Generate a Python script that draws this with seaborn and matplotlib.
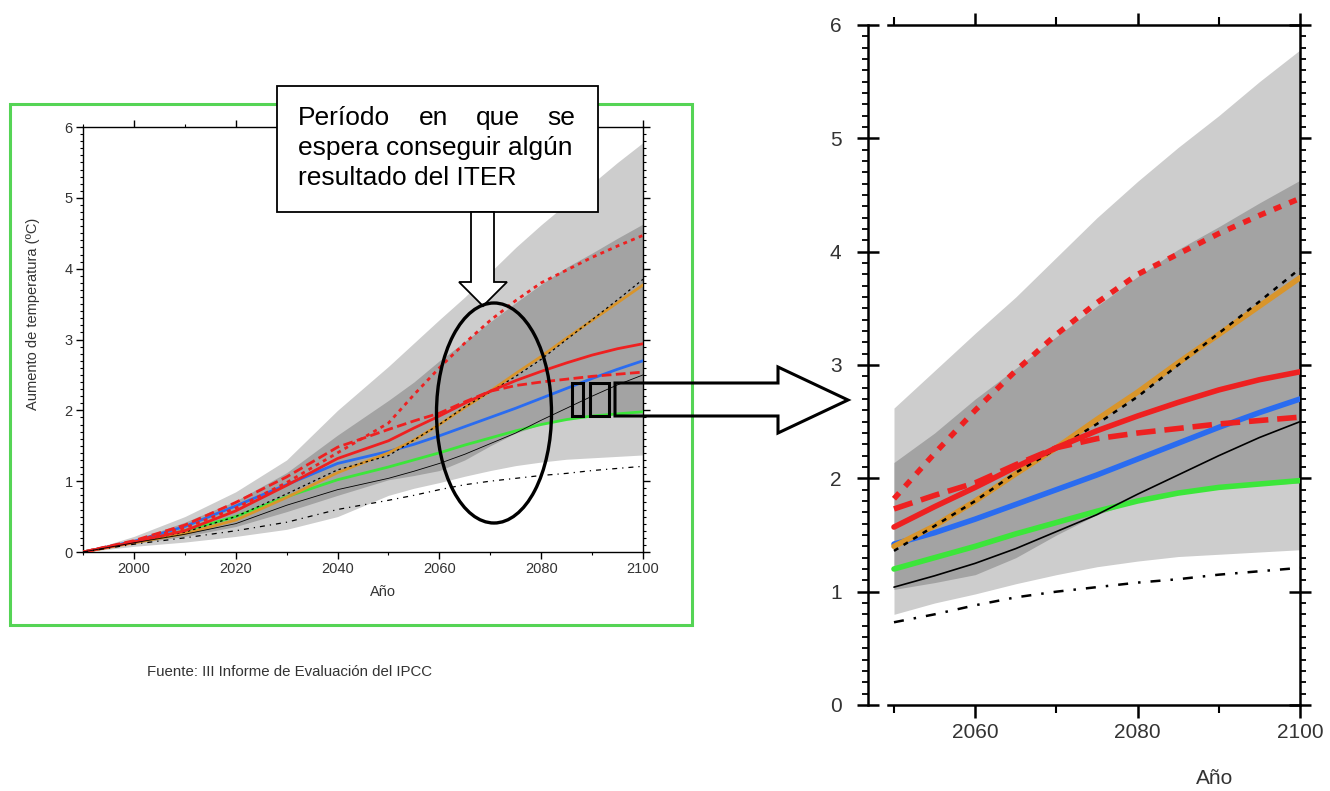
import numpy as np
import pandas as pd
import matplotlib
matplotlib.use("Agg")
import matplotlib.pyplot as plt
import seaborn as sns
from matplotlib.patches import Rectangle, Ellipse, Polygon
from matplotlib.ticker import MultipleLocator, FixedLocator

# ---------------- data ----------------
years = [1990, 2000, 2010, 2020, 2030, 2040, 2050, 2055, 2060, 2065, 2070,
         2075, 2080, 2085, 2090, 2095, 2100]
light_upper = [0, 0.22, 0.50, 0.85, 1.30, 2.00, 2.62, 2.95, 3.28, 3.60, 3.95,
               4.30, 4.62, 4.92, 5.20, 5.50, 5.78]
light_lower = [0, 0.08, 0.14, 0.22, 0.32, 0.50, 0.80, 0.90, 0.98, 1.07, 1.15,
               1.22, 1.27, 1.31, 1.33, 1.35, 1.37]
dark_upper = [0, 0.17, 0.42, 0.72, 1.12, 1.65, 2.14, 2.40, 2.70, 2.97, 3.25,
              3.52, 3.78, 4.02, 4.22, 4.43, 4.63]
dark_lower = [0, 0.12, 0.22, 0.36, 0.57, 0.80, 1.02, 1.08, 1.15, 1.30, 1.50,
              1.68, 1.80, 1.87, 1.92, 1.94, 1.96]
a1fi = [0, 0.15, 0.34, 0.62, 0.98, 1.40, 1.82, 2.22, 2.60, 2.95, 3.27,
        3.55, 3.80, 3.98, 4.16, 4.32, 4.47]
a1b = [0, 0.14, 0.30, 0.58, 0.94, 1.32, 1.57, 1.75, 1.92, 2.10, 2.27,
       2.42, 2.55, 2.67, 2.78, 2.87, 2.94]
a1t = [0, 0.16, 0.38, 0.70, 1.06, 1.48, 1.73, 1.85, 1.96, 2.12, 2.27,
       2.35, 2.40, 2.44, 2.48, 2.51, 2.54]
a2 = [0, 0.13, 0.26, 0.45, 0.77, 1.12, 1.40, 1.58, 1.80, 2.04, 2.27,
      2.52, 2.76, 3.02, 3.27, 3.52, 3.77]
a2_dots = [0, 0.14, 0.28, 0.50, 0.82, 1.16, 1.36, 1.58, 1.80, 2.05, 2.26,
           2.48, 2.72, 3.00, 3.28, 3.56, 3.85]
b2 = [0, 0.15, 0.36, 0.65, 0.95, 1.25, 1.42, 1.52, 1.64, 1.77, 1.90,
      2.03, 2.17, 2.31, 2.45, 2.58, 2.70]
b1 = [0, 0.14, 0.30, 0.50, 0.78, 1.02, 1.20, 1.30, 1.40, 1.51, 1.61,
      1.71, 1.80, 1.87, 1.92, 1.95, 1.98]
is92a = [0, 0.13, 0.25, 0.40, 0.66, 0.88, 1.04, 1.14, 1.25, 1.38, 1.53,
         1.68, 1.86, 2.03, 2.20, 2.36, 2.50]
low_dashdot = [0, 0.11, 0.20, 0.30, 0.42, 0.60, 0.73, 0.80, 0.88, 0.95, 1.00,
               1.04, 1.08, 1.11, 1.15, 1.18, 1.21]

left_xticks = [2000, 2020, 2040, 2060, 2080, 2100]
right_xticks = [2060, 2080, 2100]
yticks = [0, 1, 2, 3, 4, 5, 6]

box_lines = ["Período", "en", "que", "se",
             "espera conseguir algún", "resultado del ITER"]
source_text = "Fuente: III Informe de Evaluación del IPCC"
ylabel_text = "Aumento de temperatura (ºC)"
xlabel_text = "Año"

df = pd.DataFrame(dict(year=years, light_upper=light_upper, light_lower=light_lower,
                       dark_upper=dark_upper, dark_lower=dark_lower, a1fi=a1fi,
                       a1b=a1b, a1t=a1t, a2=a2, a2_dots=a2_dots, b2=b2, b1=b1,
                       is92a=is92a, low_dashdot=low_dashdot))

# ---------------- style ----------------
sns.set_style("white")
plt.rcParams['font.family'] = ['Liberation Sans', 'DejaVu Sans']

LIGHT = "#cdcdcd"
DARK = "#a3a3a3"
RED = "#ee2020"
BLUE = "#2a6cf0"
GREEN = "#3ce63a"
ORANGE = "#d9952b"
TXT = "#333333"

W, H = 1330, 791
fig = plt.figure(figsize=(W / 100, H / 100), dpi=100)
fig.patch.set_facecolor("white")


def draw(ax, d, scale):
    ax.fill_between(d["year"], d["light_lower"], d["light_upper"], color=LIGHT, lw=0, zorder=1)
    ax.fill_between(d["year"], d["dark_lower"], d["dark_upper"], color=DARK, lw=0, zorder=1.1)
    thick = 2.0 * scale
    specs = [
        ("b1", GREEN, thick, "-"),
        ("b2", BLUE, thick, "-"),
        ("a2", ORANGE, thick, "-"),
        ("a2_dots", "black", 0.9 * scale, (0, (2, 2.5))),
        ("a1b", RED, thick, "-"),
        ("a1t", RED, thick, (0, (3.5, 1.6))),
        ("a1fi", RED, thick, (0, (1.4, 1.6))),
        ("is92a", "black", 0.6 * scale, "-"),
        ("low_dashdot", "black", 0.9 * scale, (0, (4, 4, 1, 4))),
    ]
    for i, (col, c, lw, ls) in enumerate(specs):
        sns.lineplot(data=d, x="year", y=col, ax=ax, color=c, linewidth=lw,
                     linestyle=ls, legend=False, errorbar=None, zorder=3 + i * 0.1)
    ax.set_xlabel("")
    ax.set_ylabel("")


# ---------------- left panel ----------------
ax1 = fig.add_axes([83 / W, 1 - 552 / H, 560 / W, 425 / H])
draw(ax1, df, 1.0)
ax1.set_xlim(1990, 2100)
ax1.set_ylim(0, 6)
ax1.xaxis.set_major_locator(FixedLocator(left_xticks))
ax1.xaxis.set_minor_locator(MultipleLocator(10))
ax1.yaxis.set_major_locator(FixedLocator(yticks))
ax1.yaxis.set_minor_locator(MultipleLocator(0.1))
ax1.tick_params(which="major", direction="out", length=5, width=1.0, top=True, right=True,
                bottom=True, left=True, labelsize=10.5, labelcolor=TXT, pad=2.5, color="black")
ax1.tick_params(which="minor", direction="out", length=2.5, width=0.8, top=True, right=True,
                bottom=True, left=True, color="black")
for s in ax1.spines.values():
    s.set_linewidth(1.0)
    s.set_color("black")

# ---------------- right panel ----------------
ax2 = fig.add_axes([868 / W, 1 - 705 / H, 432 / W, 680 / H])
dz = df[df["year"] >= 2050]
draw(ax2, dz, 2.0)
ax2.set_xlim(2046.8, 2100)
ax2.set_ylim(0, 6)
ax2.xaxis.set_major_locator(FixedLocator(right_xticks))
ax2.xaxis.set_minor_locator(FixedLocator([2050, 2070, 2090]))
ax2.yaxis.set_major_locator(FixedLocator(yticks))
ax2.yaxis.set_minor_locator(MultipleLocator(0.1))
ax2.tick_params(axis="y", which="major", direction="inout", length=16, width=1.8,
                left=True, right=True, labelsize=15, labelcolor=TXT, pad=11, color="black")
ax2.tick_params(axis="y", which="minor", direction="out", length=4, width=1.3,
                left=True, right=True, color="black")
ax2.tick_params(axis="x", which="major", direction="out", length=9, width=1.8,
                top=True, bottom=True, labelsize=15, labelcolor=TXT, pad=4, color="black")
ax2.tick_params(axis="x", which="minor", direction="out", length=6, width=1.5,
                top=True, bottom=True, color="black")
for s in ax2.spines.values():
    s.set_linewidth(1.8)
    s.set_color("black")
ax2.spines["top"].set_bounds(2049.3, 2100)
ax2.spines["bottom"].set_bounds(2049.3, 2100)

# ---------------- overlay annotations (pixel coordinates) ----------------
ov = fig.add_axes([0, 0, 1, 1], zorder=10)
ov.set_xlim(0, W)
ov.set_ylim(H, 0)
ov.axis("off")
ov.patch.set_alpha(0)

ov.add_patch(Rectangle((10, 104), 682, 521, fill=False, edgecolor="#55d455", lw=2.2))

# axis texts
ov.text(33, 314, ylabel_text, rotation=90, ha="center", va="center", fontsize=10.5, color=TXT)
ov.text(383, 592, xlabel_text, ha="center", va="center", fontsize=10.5, color=TXT)
ov.text(1215, 778, xlabel_text, ha="center", va="center", fontsize=15, color=TXT)

# text box
ov.add_patch(Rectangle((277, 86), 321, 126, facecolor="white", edgecolor="black", lw=1.3))
fs = 19
ov.text(298, 125, box_lines[0], ha="left", va="baseline", fontsize=fs, color="black")
ov.text(419, 125, box_lines[1], ha="left", va="baseline", fontsize=fs, color="black")
ov.text(476, 125, box_lines[2], ha="left", va="baseline", fontsize=fs, color="black")
ov.text(575, 125, box_lines[3], ha="right", va="baseline", fontsize=fs, color="black")
ov.text(298, 155, box_lines[4], ha="left", va="baseline", fontsize=fs, color="black")
ov.text(298, 185, box_lines[5], ha="left", va="baseline", fontsize=fs, color="black")

# down arrow
ov.add_patch(Polygon([(471, 212), (494, 212), (494, 282), (507, 282), (483, 306),
                      (459, 282), (471, 282)], closed=True, facecolor="white",
                     edgecolor="black", lw=1.3))

# ellipse
ov.add_patch(Ellipse((494, 413), 115, 220, fill=False, edgecolor="black", lw=2.4))

# small rectangles and big right arrow
ov.add_patch(Rectangle((572, 383), 11, 33, fill=False, edgecolor="black", lw=2.2))
ov.add_patch(Rectangle((590, 383), 19, 33, fill=False, edgecolor="black", lw=2.2))
ov.add_patch(Polygon([(615, 383), (778, 383), (778, 367), (848, 400), (778, 433),
                      (778, 416), (615, 416)], closed=True, fill=False,
                     edgecolor="black", lw=2.2, joinstyle="miter"))

# source
ov.text(147, 672, source_text, ha="left", va="center", fontsize=10.8, color=TXT)

fig.savefig("out.png", dpi=100, facecolor="white")
